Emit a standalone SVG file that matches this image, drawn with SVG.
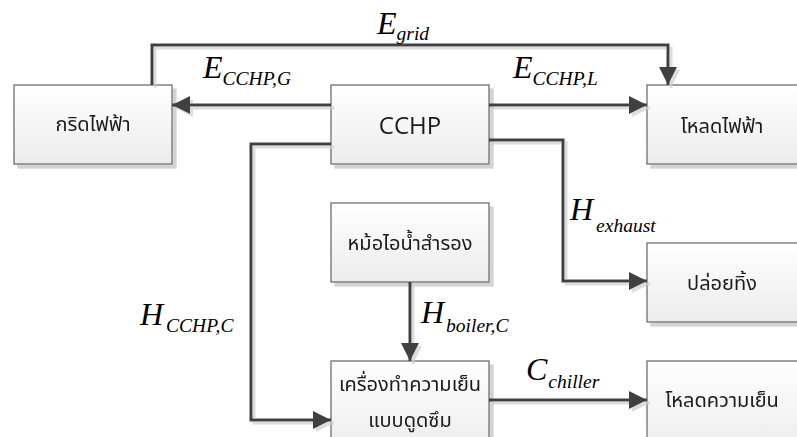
<svg xmlns="http://www.w3.org/2000/svg" width="797" height="437" viewBox="0 0 797 437">
<defs>
<linearGradient id="bg" x1="0" y1="0" x2="0" y2="1">
<stop offset="0" stop-color="#ffffff"/>
<stop offset="1" stop-color="#ececec"/>
</linearGradient>
<filter id="sh" x="-10%" y="-10%" width="130%" height="130%">
<feDropShadow dx="4" dy="4" stdDeviation="0.6" flood-color="#c8c8c8" flood-opacity="0.8"/>
</filter>
<filter id="lsh" x="-10%" y="-10%" width="130%" height="130%">
<feDropShadow dx="3" dy="3" stdDeviation="0.5" flood-color="#cfcfcf" flood-opacity="0.7"/>
</filter>
<marker id="ah" markerUnits="userSpaceOnUse" markerWidth="18" markerHeight="18" refX="18" refY="9" orient="auto">
<path d="M0,0 L18,9 L0,18 z" fill="#404040"/>
</marker>
</defs>
<style>
.box{fill:url(#bg);stroke:#6f6f6f;stroke-width:1.3}
.th{font-family:"Noto Sans Thai","Tahoma","Leelawadee UI","DejaVu Sans",sans-serif;font-size:20px;fill:#1a1a1a;text-anchor:middle}
.en{font-family:"Open Sans","Noto Sans",sans-serif;font-size:24px;fill:#1a1a1a;text-anchor:middle}
.ln{fill:none;stroke:#404040;stroke-width:3}
.m{font-family:"Liberation Serif","Times New Roman",serif;font-style:italic;fill:#000}
.big{font-size:32px}
.sub{font-size:19.5px}
</style>
<g id="nodes" filter="url(#sh)">
<g id="grid"><rect class="box" x="14" y="85" width="158" height="79"/><text class="th" x="93" y="131">กริดไฟฟ้า</text></g>
<g id="cchp"><rect class="box" x="331" y="85" width="158" height="79"/><text class="en" x="410" y="134">CCHP</text></g>
<g id="eload"><rect class="box" x="647" y="85" width="160" height="79"/><text class="th" x="722" y="133">โหลดไฟฟ้า</text></g>
<g id="boiler"><rect class="box" x="331" y="203" width="158" height="79"/><text class="th" x="410" y="250">หม้อไอน้ำสำรอง</text></g>
<g id="discharge"><rect class="box" x="647" y="243" width="160" height="79"/><text class="th" x="722" y="290">ปล่อยทิ้ง</text></g>
<g id="chiller"><rect class="box" x="331" y="361" width="158" height="90"/><text class="th" x="410" y="391">เครื่องทำความเย็น</text><text class="th" x="410" y="427">แบบดูดซึม</text></g>
<g id="cload"><rect class="box" x="647" y="361" width="160" height="90"/><text class="th" x="722" y="407">โหลดความเย็น</text></g>
</g>
<g id="connectors" filter="url(#lsh)">
<path class="ln" d="M152,85 V45 H668 V85" marker-end="url(#ah)"/>
<path class="ln" d="M331,105 H172" marker-end="url(#ah)"/>
<path class="ln" d="M489,105 H647" marker-end="url(#ah)"/>
<path class="ln" d="M331,144 H251 V420 H331" marker-end="url(#ah)"/>
<path class="ln" d="M489,140 H563 V281 H647" marker-end="url(#ah)"/>
<path class="ln" d="M410,282 V361" marker-end="url(#ah)"/>
<path class="ln" d="M489,400 H647" marker-end="url(#ah)"/>
</g>
<g id="labels">
<text class="m" x="377" y="34"><tspan class="big">E</tspan><tspan class="sub" dy="6">grid</tspan></text>
<text class="m" x="203" y="78"><tspan class="big">E</tspan><tspan class="sub" dy="7">CCHP,G</tspan></text>
<text class="m" x="513" y="78"><tspan class="big">E</tspan><tspan class="sub" dy="7">CCHP,L</tspan></text>
<text class="m" x="570" y="220"><tspan class="big">H</tspan><tspan class="sub" dy="12" dx="3">exhaust</tspan></text>
<text class="m" x="140" y="325"><tspan class="big">H</tspan><tspan class="sub" dy="7" dx="3">CCHP,C</tspan></text>
<text class="m" x="421" y="323"><tspan class="big">H</tspan><tspan class="sub" dy="9" dx="2">boiler,C</tspan></text>
<text class="m" x="526" y="380"><tspan class="big">C</tspan><tspan class="sub" dy="8" dx="1">chiller</tspan></text>
</g>
</svg>
